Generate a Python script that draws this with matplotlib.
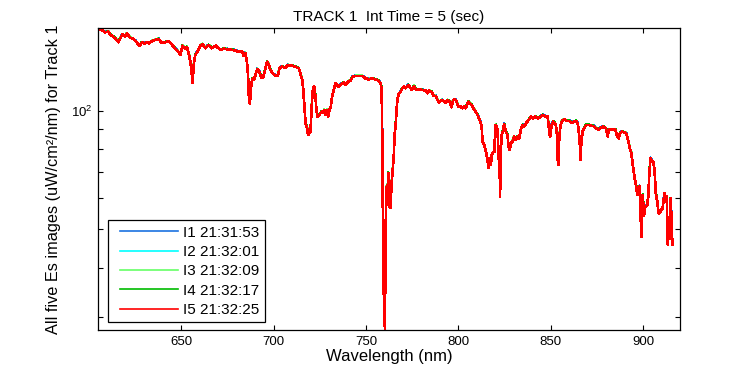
import numpy as np
import matplotlib
matplotlib.use('Agg')
import matplotlib.pyplot as plt
from matplotlib.lines import Line2D
from matplotlib.legend_handler import HandlerLine2D
from matplotlib.ticker import FixedLocator, NullFormatter, LogFormatterSciNotation

plt.rcParams['font.family'] = ['Liberation Sans', 'DejaVu Sans']
plt.rcParams['mathtext.fontset'] = 'custom'
plt.rcParams['mathtext.rm'] = 'Liberation Sans'
plt.rcParams['mathtext.it'] = 'Liberation Sans'

# spectrum (image I5, red, on top)
wavelength = [
    605.2, 607.0, 608.8, 610.6, 611.5, 613.3, 614.6, 616.0, 616.9, 618.2,
    619.6, 620.6, 622.4, 624.1, 625.4, 626.9, 627.8, 628.7, 630.1, 631.4,
    632.7, 634.1, 635.9, 637.7, 639.5, 641.3, 643.1, 645.0, 646.8, 648.2,
    649.5, 650.0, 650.7, 652.2, 653.1, 654.3, 655.1, 655.8, 656.1, 656.9,
    657.6, 659.4, 660.3, 661.6, 663.0, 664.8, 666.7, 668.8, 671.2, 673.0,
    675.7, 678.4, 680.2, 682.9, 683.8, 684.7, 685.6, 686.2, 686.5, 687.1,
    687.6, 688.0, 688.7, 689.4, 690.1, 691.2, 692.3, 693.4, 694.3, 695.2,
    696.5, 697.4, 698.3, 699.5, 701.0, 702.4, 703.2, 704.6, 706.4, 707.9,
    710.0, 711.8, 713.6, 714.5, 715.5, 716.0, 716.6, 717.3, 718.2, 718.7,
    719.4, 720.0, 720.5, 720.9, 721.4, 722.0, 722.7, 723.2, 723.8, 724.8,
    725.9, 726.6, 727.4, 728.1, 729.0, 729.6, 730.3, 731.0, 731.7, 732.6,
    733.5, 734.4, 735.3, 736.8, 738.0, 738.9, 740.4, 741.7, 742.9, 744.4,
    746.2, 748.0, 749.8, 751.6, 753.4, 755.2, 756.7, 757.9, 758.5, 758.9,
    759.2, 759.7, 760.3, 760.6, 761.2, 761.7, 762.1, 762.8, 763.3, 763.9,
    764.6, 765.1, 765.5, 766.1, 766.4, 767.0, 767.8, 768.8, 769.7, 770.6,
    771.5, 773.0, 774.2, 774.8, 776.0, 776.9, 778.7, 780.5, 782.3, 783.2,
    784.1, 785.6, 786.8, 787.8, 788.7, 789.5, 791.0, 792.3, 793.2, 794.1,
    795.4, 795.9, 796.4, 797.1, 798.2, 799.0, 800.1, 801.3, 802.2, 803.1,
    804.0, 805.0, 805.5, 806.2, 807.3, 808.5, 809.4, 810.4, 811.2, 812.2,
    812.7, 813.1, 814.0, 814.5, 815.3, 815.8, 816.3, 817.0, 817.6, 818.1,
    818.8, 819.6, 819.9, 820.3, 821.2, 821.8, 822.5, 822.6, 823.0, 823.5,
    824.3, 824.8, 825.7, 826.6, 827.2, 827.9, 828.4, 829.3, 830.2, 831.1,
    832.1, 832.9, 833.8, 834.8, 835.6, 836.9, 838.4, 839.3, 840.2, 841.6,
    842.9, 844.2, 845.6, 846.5, 848.3, 848.9, 849.2, 849.7, 850.5, 851.4,
    852.3, 852.8, 853.4, 853.8, 854.3, 854.6, 855.2, 856.1, 857.4, 858.6,
    860.1, 861.5, 862.8, 863.7, 864.6, 865.2, 865.7, 866.1, 866.6, 867.4,
    868.2, 869.1, 870.6, 871.8, 873.1, 874.5, 876.0, 877.2, 878.5, 879.9,
    880.9, 881.4, 882.7, 883.9, 885.0, 885.8, 886.8, 887.5, 888.6, 889.9,
    890.8, 891.7, 892.3, 893.0, 893.5, 894.1, 894.8, 895.6, 896.3, 896.9,
    897.4, 898.1, 898.7, 899.2, 899.8, 900.5, 901.2, 902.2, 902.9, 903.3,
    904.0, 904.7, 905.5, 906.2, 906.9, 907.7, 908.4, 909.1, 909.9, 910.6,
    911.1, 911.7, 912.2, 912.8, 913.3, 913.9, 914.4, 915.0, 915.5, 915.9,
]
irradiance = [
    161.0, 160.0, 158.0, 158.5, 156.0, 154.0, 152.0, 149.0, 152.0, 156.0,
    154.0, 157.0, 153.0, 152.0, 150.0, 147.0, 146.0, 149.0, 148.0, 149.0,
    148.0, 150.0, 151.0, 152.0, 148.5, 149.0, 150.0, 147.0, 143.5, 141.5,
    138.4, 141.0, 146.0, 143.5, 145.0, 138.4, 131.8, 123.0, 117.5, 132.0,
    138.0, 143.0, 146.0, 147.5, 144.0, 146.7, 144.0, 146.0, 142.4, 143.5,
    143.0, 142.4, 141.5, 141.5, 137.8, 140.0, 133.0, 123.0, 110.7, 104.4,
    109.6, 117.3, 120.7, 119.6, 122.6, 127.5, 125.5, 121.2, 121.2, 125.5,
    133.0, 131.0, 126.8, 124.3, 122.6, 123.0, 128.0, 129.3, 128.5, 130.5,
    130.0, 129.3, 128.0, 124.3, 119.6, 114.0, 104.4, 92.9, 90.2, 86.8,
    87.7, 88.5, 99.4, 107.5, 114.0, 115.0, 108.5, 100.4, 96.6, 97.5,
    99.4, 98.8, 100.4, 97.5, 100.4, 96.6, 100.8, 102.4, 108.5, 112.8,
    117.3, 116.2, 115.0, 116.9, 117.8, 116.2, 118.6, 119.2, 122.0, 122.4,
    122.4, 122.4, 120.7, 120.0, 120.7, 120.0, 119.2, 117.3, 114.0, 81.9,
    52.9, 33.8, 27.8, 49.0, 64.2, 62.4, 69.6, 57.2, 56.6, 65.6,
    71.8, 77.3, 86.8, 92.0, 97.5, 106.4, 110.2, 111.6, 114.0, 115.0,
    114.0, 116.2, 114.0, 112.8, 115.5, 113.3, 113.3, 112.8, 112.4, 110.7,
    112.4, 111.6, 108.9, 108.9, 106.4, 104.8, 106.4, 105.4, 104.8, 106.4,
    105.4, 103.4, 102.0, 106.0, 106.9, 105.4, 102.4, 102.4, 101.4, 102.4,
    101.4, 104.4, 105.4, 104.4, 103.4, 100.8, 99.4, 97.5, 95.6, 92.9,
    90.2, 83.5, 81.9, 80.3, 77.3, 75.0, 71.5, 75.8, 72.9, 77.3,
    78.3, 78.8, 89.4, 92.0, 89.4, 77.3, 66.8, 60.6, 79.5, 86.8,
    89.4, 92.5, 88.5, 86.8, 81.1, 79.5, 82.8, 83.5, 86.0, 84.3,
    86.0, 84.7, 89.4, 92.0, 91.1, 93.2, 95.1, 96.6, 95.6, 96.6,
    95.6, 96.2, 97.5, 96.9, 96.6, 92.0, 87.7, 86.0, 92.0, 93.8,
    92.9, 92.0, 86.8, 75.0, 72.9, 84.3, 91.1, 94.2, 95.1, 94.2,
    94.2, 93.2, 93.8, 94.2, 92.9, 88.5, 83.5, 75.0, 83.5, 89.0,
    90.2, 92.0, 92.0, 91.5, 91.5, 90.2, 89.6, 90.6, 91.1, 90.2,
    86.0, 89.6, 89.6, 89.4, 89.6, 86.8, 85.0, 87.7, 88.5, 88.0,
    87.7, 85.0, 82.4, 79.5, 78.8, 75.0, 70.8, 66.8, 64.2, 61.2,
    63.0, 64.4, 53.4, 47.9, 61.2, 54.3, 57.2, 57.4, 61.2, 68.0,
    75.8, 74.7, 74.2, 70.8, 61.8, 58.8, 54.9, 55.1, 56.1, 56.6,
    59.4, 61.8, 60.0, 60.6, 45.8, 53.6, 47.4, 60.0, 49.9, 45.8,
]

labels = ['I1 21:31:53', 'I2 21:32:01', 'I3 21:32:09', 'I4 21:32:17', 'I5 21:32:25']
# relative level of each image against I5 (the others only peek out above the red)
gains = [1.002, 1.001, 1.0015, 1.001, 1.0]
colors = ['#1a72e0', '#00ffff', '#66ff66', '#00bb00', '#ff0000']

wl = np.array(wavelength)
es = np.array(irradiance)

fig = plt.figure(figsize=(7.5, 3.75), dpi=100)
ax = fig.add_axes([0.1307, 0.12, 0.7760, 0.8045])

for lab, g, c in zip(labels, gains, colors):
    ax.plot(wl, es * g, color=c, lw=1.2, label=lab, antialiased=False)

ax.set_yscale('log')
ax.set_xlim(605, 920)
ax.set_ylim(27.8, 161.7)
ax.xaxis.set_major_locator(FixedLocator([650, 700, 750, 800, 850, 900]))
ax.yaxis.set_major_locator(FixedLocator([100]))
ax.yaxis.set_major_formatter(LogFormatterSciNotation())
ax.yaxis.set_minor_locator(FixedLocator([30, 40, 50, 60, 70, 80, 90]))
ax.yaxis.set_minor_formatter(NullFormatter())

ax.tick_params(which='both', direction='in', top=True, right=True,
               length=3.5, width=0.8, labelsize=9.5, pad=4)
for s in ax.spines.values():
    s.set_linewidth(0.9)

ax.set_title('TRACK 1  Int Time = 5 (sec)', fontsize=11, pad=5)
ax.set_xlabel('Wavelength (nm)', fontsize=12, labelpad=1)
ax.set_ylabel('All five Es images (uW/cm\u00b2/nm) for Track 1', fontsize=11.7, labelpad=7)

leg = ax.legend(loc='lower left', bbox_to_anchor=(0.0177, 0.0255), borderaxespad=0,
                fontsize=11, handlelength=4.2, handletextpad=0.35, labelspacing=0.35,
                borderpad=0.35, fancybox=False, framealpha=1, edgecolor='black',
                handler_map={Line2D: HandlerLine2D(xpad=0.4)})
leg.get_frame().set_linewidth(0.9)

fig.savefig('out.png', dpi=100)
